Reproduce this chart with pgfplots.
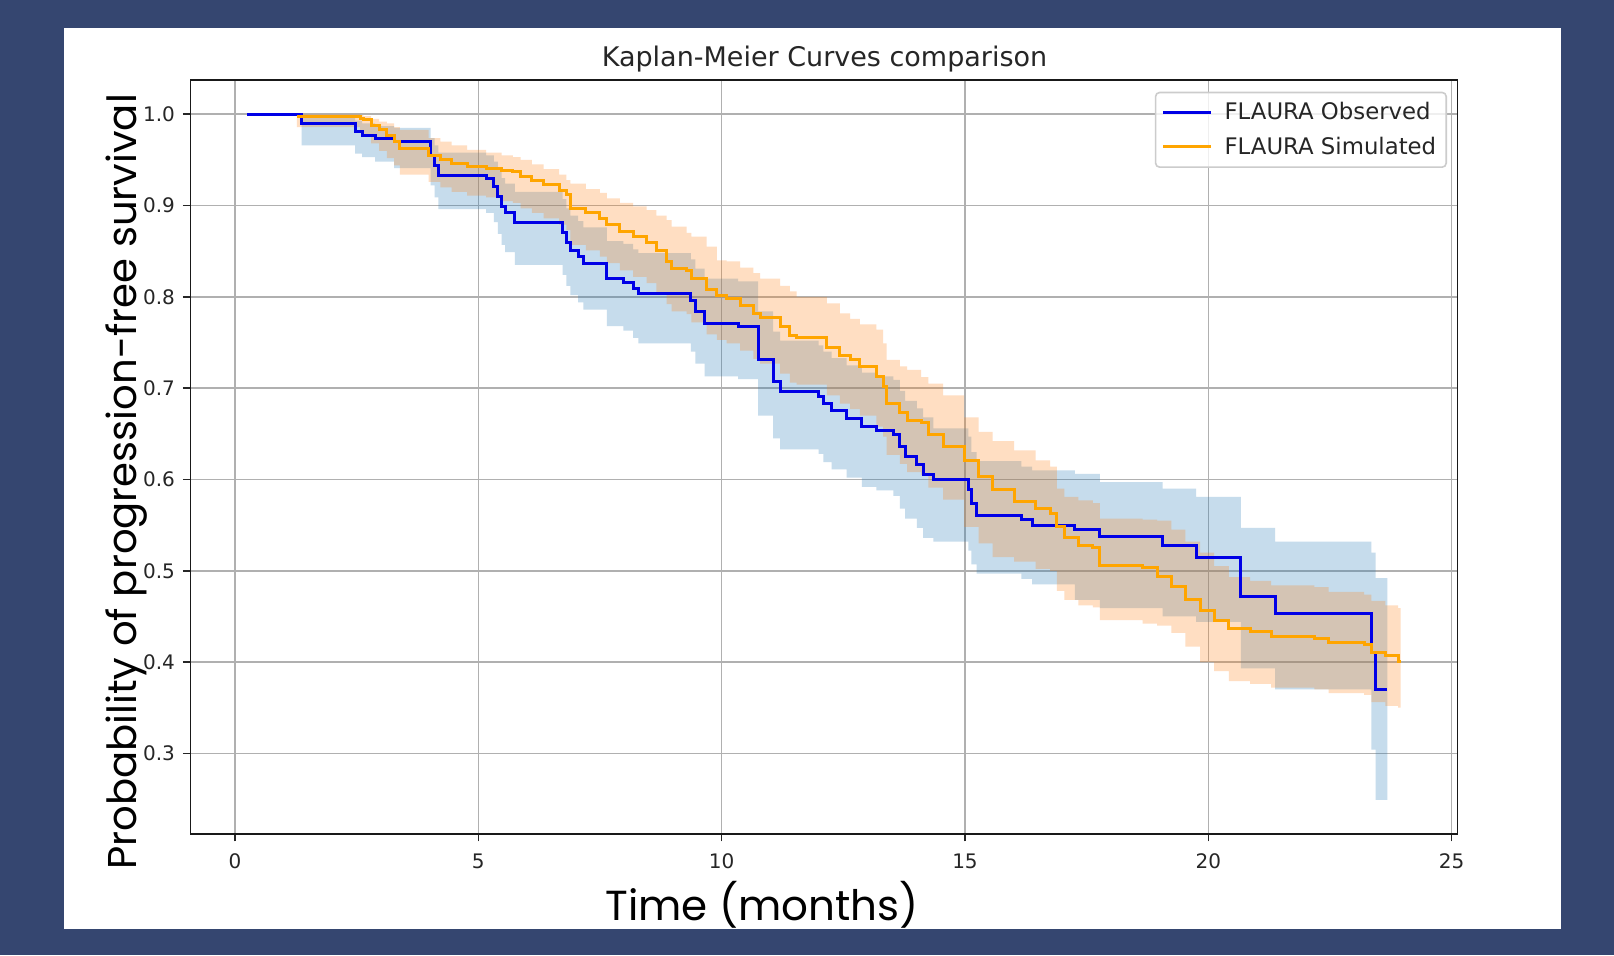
\documentclass[border=0pt]{standalone}
\usepackage{fontspec}
\setmainfont{DejaVu Sans}
\newfontfamily\poppins{Poppins}
\usepackage{pgfplots}
\pgfplotsset{compat=1.18}
\usepackage{pgfplotstable}

\definecolor{navy}{RGB}{53,70,112}
\definecolor{cblue}{RGB}{31,119,180}
\definecolor{corange}{RGB}{255,127,14}
\definecolor{lblue}{RGB}{0,0,230}
\definecolor{lorange}{RGB}{255,165,0}

% Observed KM curve
\pgfplotstableread{
t s
0.25 1.000
1.37 0.990
2.47 0.981
2.61 0.977
2.88 0.973
3.27 0.970
4.02 0.955
4.10 0.944
4.18 0.933
5.16 0.930
5.32 0.921
5.40 0.910
5.48 0.899
5.55 0.892
5.75 0.881
6.73 0.871
6.81 0.860
6.89 0.851
7.05 0.844
7.16 0.837
7.64 0.820
7.98 0.816
8.18 0.809
8.29 0.804
9.37 0.796
9.46 0.784
9.65 0.771
10.34 0.768
10.75 0.731
11.06 0.707
11.20 0.696
11.99 0.691
12.09 0.683
12.26 0.676
12.57 0.667
12.88 0.658
13.18 0.654
13.53 0.649
13.66 0.636
13.77 0.625
14.01 0.616
14.14 0.605
14.35 0.600
15.07 0.589
15.13 0.574
15.24 0.561
16.16 0.556
16.38 0.550
17.26 0.545
17.77 0.537
19.06 0.528
19.75 0.515
20.67 0.472
21.37 0.453
23.35 0.411
23.44 0.370
23.68 0.370
}\obsline

% Observed CI band outline (upper edge forward, lower edge back)
\pgfplotstableread{
x y
0.25 1.000
1.37 0.997
2.47 0.993
2.61 0.990
2.88 0.987
3.27 0.985
4.02 0.974
4.10 0.966
4.18 0.958
5.16 0.955
5.32 0.948
5.40 0.939
5.48 0.930
5.55 0.924
5.75 0.915
6.73 0.907
6.81 0.897
6.89 0.889
7.05 0.883
7.16 0.876
7.64 0.861
7.98 0.858
8.18 0.852
8.29 0.848
9.37 0.841
9.46 0.831
9.65 0.820
10.34 0.817
10.75 0.784
11.06 0.762
11.20 0.752
11.99 0.747
12.09 0.740
12.26 0.733
12.57 0.725
12.88 0.717
13.18 0.713
13.53 0.709
13.66 0.697
13.77 0.686
14.01 0.678
14.14 0.668
14.35 0.656
15.07 0.647
15.13 0.630
15.24 0.620
16.16 0.614
16.38 0.610
17.26 0.606
17.77 0.597
19.06 0.590
19.75 0.581
20.67 0.547
21.37 0.532
23.35 0.520
23.44 0.492
23.68 0.492
23.68 0.249
23.44 0.304
23.35 0.370
21.37 0.393
20.67 0.444
19.75 0.450
19.06 0.459
17.77 0.468
17.26 0.485
16.38 0.491
16.16 0.497
15.24 0.507
15.13 0.522
15.07 0.532
14.35 0.536
14.14 0.547
14.01 0.557
13.77 0.568
13.66 0.582
13.53 0.588
13.18 0.592
12.88 0.602
12.57 0.611
12.26 0.619
12.09 0.628
11.99 0.633
11.20 0.645
11.06 0.670
10.75 0.710
10.34 0.713
9.65 0.727
9.46 0.740
9.37 0.749
8.29 0.755
8.18 0.763
7.98 0.768
7.64 0.786
7.16 0.794
7.05 0.802
6.89 0.812
6.81 0.824
6.73 0.835
5.75 0.849
5.55 0.857
5.48 0.869
5.40 0.882
5.32 0.892
5.16 0.896
4.18 0.909
4.10 0.922
4.02 0.941
3.27 0.948
2.88 0.953
2.61 0.957
2.47 0.966
1.37 1.000
0.25 1.000
}\obsband

% Simulated KM curve
\pgfplotstableread{
t s
1.27 0.998
2.57 0.995
2.64 0.994
2.80 0.988
2.96 0.983
3.12 0.977
3.27 0.970
3.39 0.962
3.98 0.955
4.22 0.950
4.45 0.946
4.77 0.943
5.16 0.941
5.48 0.938
5.71 0.937
5.87 0.932
6.10 0.928
6.34 0.923
6.66 0.917
6.81 0.912
6.89 0.897
7.21 0.892
7.50 0.886
7.64 0.879
7.91 0.872
8.18 0.866
8.46 0.860
8.66 0.851
8.87 0.839
8.97 0.831
9.28 0.829
9.38 0.820
9.69 0.808
9.90 0.802
10.10 0.798
10.38 0.791
10.65 0.782
10.79 0.777
11.20 0.767
11.40 0.758
11.54 0.756
12.16 0.745
12.43 0.736
12.64 0.731
12.84 0.724
13.18 0.713
13.32 0.702
13.39 0.683
13.66 0.673
13.81 0.665
14.10 0.662
14.25 0.649
14.55 0.636
14.98 0.621
15.28 0.603
15.57 0.589
16.01 0.576
16.45 0.568
16.75 0.563
16.89 0.548
17.04 0.536
17.33 0.528
17.63 0.525
17.77 0.506
18.65 0.504
18.95 0.494
19.24 0.483
19.53 0.468
19.83 0.457
20.12 0.446
20.42 0.437
20.86 0.433
21.29 0.428
22.18 0.426
22.47 0.421
23.20 0.419
23.35 0.411
23.64 0.407
23.90 0.401
23.95 0.401
}\simline

% Simulated CI band outline
\pgfplotstableread{
x y
1.27 1.000
2.57 0.999
2.64 0.998
2.80 0.995
2.96 0.992
3.12 0.990
3.27 0.986
3.39 0.983
3.98 0.974
4.22 0.970
4.45 0.966
4.77 0.961
5.16 0.958
5.48 0.955
5.71 0.953
5.87 0.950
6.10 0.945
6.34 0.940
6.66 0.934
6.81 0.928
6.89 0.924
7.21 0.918
7.50 0.914
7.64 0.908
7.91 0.903
8.18 0.899
8.46 0.895
8.66 0.889
8.87 0.884
8.97 0.877
9.28 0.870
9.38 0.866
9.69 0.855
9.90 0.840
10.10 0.839
10.38 0.832
10.65 0.826
10.79 0.820
11.20 0.812
11.40 0.806
11.54 0.800
12.16 0.793
12.43 0.782
12.64 0.776
12.84 0.770
13.18 0.764
13.32 0.749
13.39 0.731
13.66 0.724
13.81 0.720
14.10 0.712
14.25 0.705
14.55 0.692
14.98 0.668
15.28 0.652
15.57 0.642
16.01 0.632
16.45 0.621
16.75 0.614
16.89 0.590
17.04 0.581
17.33 0.577
17.63 0.574
17.77 0.557
18.65 0.556
18.95 0.555
19.24 0.545
19.53 0.532
19.83 0.520
20.12 0.505
20.42 0.493
20.86 0.489
21.29 0.484
22.18 0.482
22.47 0.477
23.20 0.474
23.35 0.467
23.64 0.462
23.90 0.459
23.95 0.459
23.95 0.350
23.90 0.352
23.64 0.356
23.35 0.364
23.20 0.366
22.47 0.370
22.18 0.372
21.29 0.376
20.86 0.379
20.42 0.390
20.12 0.400
19.83 0.417
19.53 0.432
19.24 0.440
18.95 0.442
18.65 0.446
17.77 0.460
17.63 0.462
17.33 0.468
17.04 0.478
16.89 0.500
16.75 0.502
16.45 0.510
16.01 0.515
15.57 0.530
15.28 0.548
14.98 0.578
14.55 0.591
14.25 0.605
14.10 0.608
13.81 0.617
13.66 0.627
13.39 0.647
13.32 0.658
13.18 0.670
12.84 0.677
12.64 0.683
12.43 0.692
12.16 0.704
11.54 0.706
11.40 0.716
11.20 0.727
10.79 0.732
10.65 0.741
10.38 0.749
10.10 0.753
9.90 0.759
9.69 0.772
9.38 0.781
9.28 0.784
8.97 0.792
8.87 0.805
8.66 0.815
8.46 0.822
8.18 0.829
7.91 0.837
7.64 0.844
7.50 0.851
7.21 0.857
6.89 0.873
6.81 0.879
6.66 0.886
6.34 0.892
6.10 0.897
5.87 0.903
5.71 0.905
5.48 0.909
5.16 0.911
4.77 0.915
4.45 0.920
4.22 0.926
3.98 0.934
3.39 0.944
3.27 0.952
3.12 0.960
2.96 0.968
2.80 0.976
2.64 0.980
2.57 0.986
1.27 0.986
}\simband

\begin{document}
\begin{tikzpicture}
\useasboundingbox (0,0) rectangle (807pt,-477.5pt);
\fill[navy] (0,0) rectangle (807pt,-477.5pt);
\fill[white] (32pt,-14pt) rectangle (780.25pt,-464.5pt);
\begin{axis}[
  at={(95.2pt,-416.85pt)}, anchor=south west,
  scale only axis, width=633.55pt, height=376.7pt,
  xmin=-0.916, xmax=25.12, ymin=0.212, ymax=1.0372,
  xtick={0,5,10,15,20,25},
  ytick={0.3,0.4,0.5,0.6,0.7,0.8,0.9,1.0},
  yticklabel style={/pgf/number format/fixed, /pgf/number format/fixed zerofill, /pgf/number format/precision=1, xshift=-0.4pt},
  /pgf/number format/assume math mode=true,
  ticklabel style={font=\fontsize{10}{12}\selectfont, text=black!85},
  xticklabel style={yshift=-2.7pt},
  tick pos=left, tick align=outside, major tick length=3.8pt,
  tick style={black!85, line width=0.8pt},
  axis line style={black!90, line width=0.9pt},
  grid=major, grid style={color=black!31, line width=0.8pt},
  legend style={at={(1,1)}, anchor=north east, xshift=-5.25pt, yshift=-5.7pt,
    draw=black!20, line width=0.8pt, rounded corners=2pt, fill=white,
    fill opacity=0.8, text opacity=1, text=black!85,
    font=\fontsize{11.4}{13.5}\selectfont, inner xsep=3pt, inner ysep=3pt,
    row sep=3pt, column sep=4pt},
  legend cell align=left,
  legend image code/.code={\draw[#1, line width=1.5pt] (0pt,0pt) -- (24pt,0pt);},
]
\addplot[forget plot, const plot, fill=cblue, fill opacity=0.25, draw=none] table[x=x,y=y]{\obsband};
\addplot[forget plot, const plot, fill=corange, fill opacity=0.25, draw=none] table[x=x,y=y]{\simband};
\addplot[const plot, lblue, line width=1.5pt] table[x=t,y=s]{\obsline};
\addlegendentry{FLAURA Observed}
\addplot[const plot, lorange, line width=1.5pt] table[x=t,y=s]{\simline};
\addlegendentry{FLAURA Simulated}
\end{axis}
\node[font=\fontsize{13.5}{16}\selectfont, anchor=base, text=black!85] at (412.25pt,-33.35pt) {Kaplan-Meier Curves comparison};
\node[font=\poppins\fontsize{21}{24}\selectfont, anchor=base, inner sep=0pt] at (381pt,-460pt) {Time (months)};
\node[font=\poppins\fontsize{20.1}{23}\selectfont, anchor=base, rotate=90, inner sep=0pt] at (68pt,-241pt) {Probability of progression-free survival};
\end{tikzpicture}
\end{document}
